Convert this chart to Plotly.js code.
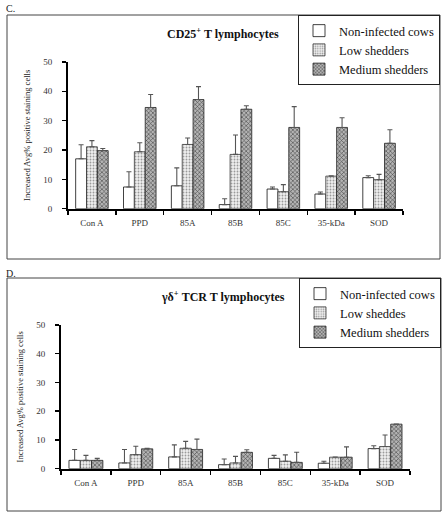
<!DOCTYPE html>
<html>
<head>
<meta charset="utf-8">
<script src="https://cdn.plot.ly/plotly-3.0.1.min.js"></script>
<style>html,body{margin:0;padding:0;background:#fff;}</style>
</head>
<body>
<div id="chart" style="width:444px;height:513px;"></div>
<script>
// ---- data ----
const categories = ["Con A", "PPD", "85A", "85B", "85C", "35-kDa", "SOD"];

// Panel C: CD25+ T lymphocytes
const cd25NonInfected = [17.0, 7.4, 7.8, 1.4, 6.7, 5.0, 10.6];
const cd25NonInfectedErr = [4.8, 5.2, 6.1, 2.0, 0.7, 0.7, 0.65];
const cd25Low = [21.1, 19.4, 21.9, 18.5, 5.8, 11.1, 9.9];
const cd25LowErr = [2.1, 3.1, 2.2, 6.6, 2.4, 0.1, 1.8];
const cd25Medium = [19.8, 34.5, 37.2, 33.9, 27.7, 27.7, 22.3];
const cd25MediumErr = [0.7, 4.4, 4.4, 1.2, 7.1, 3.3, 4.6];

// Panel D: gamma-delta TCR T lymphocytes
const gdNonInfected = [2.9, 2.0, 4.1, 1.4, 3.6, 1.9, 7.0];
const gdNonInfectedErr = [3.8, 4.7, 4.2, 2.0, 1.05, 0.7, 1.0];
const gdLow = [2.9, 4.9, 7.1, 2.0, 2.6, 4.0, 7.7];
const gdLowErr = [1.75, 2.9, 2.4, 2.3, 2.2, 0.05, 4.0];
const gdMedium = [2.9, 6.9, 6.7, 5.7, 2.2, 4.0, 15.5];
const gdMediumErr = [0.7, 0.2, 3.6, 0.9, 3.5, 3.6, 0.05];

const legendTop = ["Non-infected cows", "Low shedders", "Medium shedders"];
const legendBottom = ["Non-infected cows", "Low sheddes", "Medium shedders"];
const yTicks = [0, 10, 20, 30, 40, 50];

// ---- styles ----
const W = 444, H = 513;
const px = v => v / W;
const py = v => 1 - v / H;
const serif = "Liberation Serif";

const styleNon = {color: "#ffffff", line: {color: "#111", width: 0.8}};
const styleLow = {color: "#e8e8e8", line: {color: "#333", width: 0.8},
  pattern: {shape: ".", fgcolor: "#9a9a9a", bgcolor: "#efefef", size: 3, solidity: 0.3}};
const styleMed = {color: "#9a9a9a", line: {color: "#222", width: 0.8},
  pattern: {shape: "x", fgcolor: "#444", bgcolor: "#b4b4b4", size: 3, solidity: 0.35}};

function errBar(arr) {
  return {type: "data", symmetric: false, array: arr, arrayminus: arr.map(() => 0),
          color: "#555", thickness: 1.1, width: 2.5};
}
function bar(name, y, err, marker, xa, ya, legend) {
  return {type: "bar", name: name, x: categories, y: y, error_y: errBar(err),
          marker: JSON.parse(JSON.stringify(marker)), xaxis: xa, yaxis: ya, legend: legend};
}

const traces = [
  bar(legendTop[0], cd25NonInfected, cd25NonInfectedErr, styleNon, "x", "y", "legend"),
  bar(legendTop[1], cd25Low, cd25LowErr, styleLow, "x", "y", "legend"),
  bar(legendTop[2], cd25Medium, cd25MediumErr, styleMed, "x", "y", "legend"),
  bar(legendBottom[0], gdNonInfected, gdNonInfectedErr, styleNon, "x2", "y2", "legend2"),
  bar(legendBottom[1], gdLow, gdLowErr, styleLow, "x2", "y2", "legend2"),
  bar(legendBottom[2], gdMedium, gdMediumErr, styleMed, "x2", "y2", "legend2")
];

const tickFont = {family: serif, size: 9, color: "#333"};
const yTitle = {text: "Increased Avg% positive staining cells",
  font: {family: serif, size: 8.5, color: "#222"}, standoff: 11};

function xAxis(domain, anchor) {
  return {domain: domain, anchor: anchor, type: "category", categoryarray: categories,
    range: [-0.5, 6.5], tickson: "boundaries", ticks: "outside", ticklen: 4, tickwidth: 1.5,
    tickcolor: "#000", showline: true, linecolor: "#000", linewidth: 2, showgrid: false,
    zeroline: false, tickfont: tickFont, ticklabelstandoff: 4, fixedrange: true};
}
function yAxis(domain, anchor) {
  return {domain: domain, anchor: anchor, range: [0, 50], tickvals: yTicks, ticks: "outside",
    ticklen: 4, tickwidth: 1.5, tickcolor: "#000", showline: true, linecolor: "#000",
    linewidth: 2, showgrid: false, zeroline: false, tickfont: tickFont, ticklabelstandoff: 8,
    title: yTitle, fixedrange: true};
}
function xInner(domain, anchor, over) {
  return {domain: domain, anchor: anchor, overlaying: over, type: "linear", range: [-0.5, 6.5],
    tick0: -0.5, dtick: 1, ticks: "inside", ticklen: 4, tickwidth: 1.5, tickcolor: "#000",
    showticklabels: false, showline: false, showgrid: false, zeroline: false, fixedrange: true};
}
function yInner(domain, anchor, over) {
  return {domain: domain, anchor: anchor, overlaying: over, range: [0, 50], tickvals: yTicks,
    ticks: "inside", ticklen: 4, tickwidth: 1.5, tickcolor: "#000", showticklabels: false,
    showline: false, showgrid: false, zeroline: false, fixedrange: true};
}

const xdomTop = [px(68), px(403)], ydomTop = [py(208.7), py(62)];
const xdomBot = [px(61), px(410)], ydomBot = [py(468.7), py(325)];

const legendFont = {family: serif, size: 12.5, color: "#111"};

const layout = {
  width: W, height: H, margin: {l: 0, r: 0, t: 0, b: 0},
  font: {family: serif, color: "#222"},
  paper_bgcolor: "#fff", plot_bgcolor: "rgba(0,0,0,0)",
  barmode: "group", bargap: 0.32, bargroupgap: 0,
  xaxis: xAxis(xdomTop, "y"), yaxis: yAxis(ydomTop, "x"),
  xaxis2: xAxis(xdomBot, "y2"), yaxis2: yAxis(ydomBot, "x2"),
  xaxis3: xInner(xdomTop, "y", "x"), yaxis3: yInner(ydomTop, "x", "y"),
  xaxis4: xInner(xdomBot, "y2", "x2"), yaxis4: yInner(ydomBot, "x2", "y2"),
  legend: {x: px(440), xanchor: "right", y: py(15), yanchor: "top", bgcolor: "#fff",
    bordercolor: "#222", borderwidth: 1, font: legendFont, tracegroupgap: 0,
    itemwidth: 30, traceorder: "normal"},
  legend2: {x: px(441), xanchor: "right", y: py(278), yanchor: "top", bgcolor: "#fff",
    bordercolor: "#222", borderwidth: 1, font: legendFont, tracegroupgap: 0,
    itemwidth: 30, traceorder: "normal"},
  shapes: [
    {type: "rect", xref: "paper", yref: "paper", x0: px(7), x1: px(440), y0: py(259), y1: py(15),
     line: {color: "#444", width: 1}, layer: "below"},
    {type: "rect", xref: "paper", yref: "paper", x0: px(7), x1: px(441), y0: py(511), y1: py(278),
     line: {color: "#444", width: 1}, layer: "below"}
  ],
  annotations: [
    {text: "C.", xref: "paper", yref: "paper", x: px(4), y: py(8), xanchor: "left", yanchor: "middle",
     showarrow: false, font: {family: serif, size: 10, color: "#222"}},
    {text: "D.", xref: "paper", yref: "paper", x: px(4), y: py(273), xanchor: "left", yanchor: "middle",
     showarrow: false, font: {family: serif, size: 10, color: "#222"}},
    {text: "<b>CD25<sup>+</sup> T lymphocytes</b>", xref: "paper", yref: "paper", x: px(223), y: py(33),
     xanchor: "center", yanchor: "middle", showarrow: false, font: {family: serif, size: 12, color: "#111"}},
    {text: "<b>γδ<sup>+</sup> TCR T lymphocytes</b>", xref: "paper", yref: "paper", x: px(223), y: py(296),
     xanchor: "center", yanchor: "middle", showarrow: false, font: {family: serif, size: 12, color: "#111"}}
  ]
};

Plotly.newPlot("chart", traces, layout, {staticPlot: true, displayModeBar: false});
</script>
</body>
</html>
